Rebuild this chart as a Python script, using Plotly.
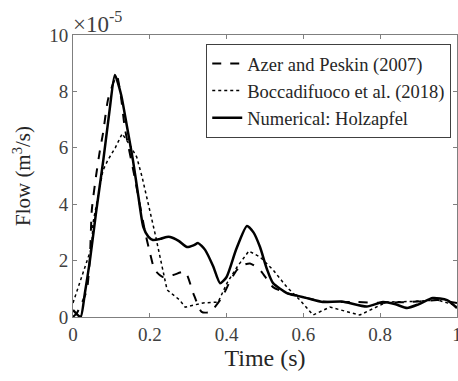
import plotly.graph_objects as go

# Numerical: Holzapfel (solid)
t_num = [0.0, 0.01, 0.02, 0.031, 0.044, 0.06, 0.079, 0.095, 0.109, 0.125, 0.14, 0.156, 0.17, 0.183, 0.196, 0.208,
         0.227, 0.244, 0.253, 0.275, 0.297, 0.315, 0.326, 0.344, 0.365, 0.383, 0.40, 0.425, 0.453, 0.47, 0.487,
         0.505, 0.521, 0.557, 0.585, 0.609, 0.651, 0.70, 0.765, 0.807, 0.84, 0.87, 0.90, 0.937, 0.974, 1.0]
q_num = [0.25, 0.1, 0.0, 0.85, 2.0, 3.7, 5.57, 7.3, 8.58, 7.9, 6.8, 5.57, 4.3, 3.2, 2.85, 2.73,
         2.77, 2.84, 2.84, 2.7, 2.48, 2.55, 2.62, 2.38, 1.8, 1.2, 1.42, 2.4, 3.23, 3.0, 2.48,
         1.7, 1.2, 0.85, 0.75, 0.67, 0.53, 0.55, 0.37, 0.53, 0.45, 0.32, 0.45, 0.67, 0.6, 0.32]

# Azer and Peskin (2007) (dashed)
t_azer = [0.0, 0.01, 0.02, 0.036, 0.044, 0.049, 0.06, 0.07, 0.078, 0.091, 0.105, 0.114, 0.125, 0.135, 0.16,
          0.188, 0.2, 0.213, 0.234, 0.261, 0.292, 0.313, 0.335, 0.357, 0.388, 0.41, 0.427, 0.445, 0.461,
          0.487, 0.521, 0.557, 0.60, 0.65, 0.74, 0.80, 0.90, 0.95, 1.0]
q_azer = [0.0, 0.14, 0.4, 0.95, 2.1, 3.8, 5.0, 5.9, 6.5, 7.7, 8.3, 8.58, 7.8, 6.7, 5.0,
          3.0, 2.3, 1.67, 1.42, 1.49, 1.6, 0.85, 0.18, 0.18, 0.7, 1.3, 1.67, 1.85, 1.9,
          1.67, 1.06, 0.85, 0.7, 0.55, 0.53, 0.5, 0.55, 0.6, 0.5]

# Boccadifuoco et al. (2018) (dotted)
t_bocc = [0.0, 0.026, 0.049, 0.052, 0.078, 0.091, 0.11, 0.128, 0.148, 0.166, 0.18, 0.213, 0.245, 0.278,
          0.292, 0.339, 0.378, 0.401, 0.427, 0.458, 0.487, 0.521, 0.557, 0.591, 0.625, 0.669, 0.747,
          0.817, 0.88, 0.95, 1.0]
q_bocc = [0.5, 1.56, 2.5, 3.33, 5.2, 5.57, 6.0, 6.5, 6.1, 5.67, 4.96, 3.0, 0.96, 0.6,
          0.35, 0.5, 0.53, 1.2, 1.77, 2.34, 2.13, 1.67, 1.06, 0.6, 0.07, 0.35, 0.07,
          0.53, 0.55, 0.6, 0.4]

x_ticks = [0, 0.2, 0.4, 0.6, 0.8, 1]
x_labels = ["0", "0.2", "0.4", "0.6", "0.8", "1"]
y_ticks = [0, 2, 4, 6, 8, 10]
y_labels = ["0", "2", "4", "6", "8", "10"]

FONT = "Liberation Serif"
AX = "#7f7f7f"
TXT = "#404040"

fig = go.Figure()
fig.add_trace(go.Scatter(x=t_azer, y=q_azer, mode="lines", name="Azer and Peskin (2007)",
                         line=dict(color="black", width=2, dash="dash", shape="spline", smoothing=0.6)))
fig.add_trace(go.Scatter(x=t_bocc, y=q_bocc, mode="lines", name="Boccadifuoco et al. (2018)",
                         line=dict(color="black", width=1.5, dash="dot")))
fig.add_trace(go.Scatter(x=t_num, y=q_num, mode="lines", name="Numerical: Holzapfel",
                         line=dict(color="black", width=2.5, shape="spline", smoothing=0.6)))

axis_common = dict(showline=True, linecolor=AX, linewidth=1, mirror="ticks", ticks="inside",
                   ticklen=4, tickcolor=AX, showgrid=False, zeroline=False, automargin=False,
                   ticklabeloverflow="allow",
                   tickfont=dict(family=FONT, size=19, color=TXT))

fig.update_xaxes(range=[0, 1], tickvals=x_ticks, ticktext=x_labels,
                 title=dict(text="Time (s)", font=dict(family=FONT, size=24, color="#262626"), standoff=2),
                 **axis_common)
fig.update_yaxes(range=[0, 10], tickvals=y_ticks, ticktext=y_labels,
                 title=dict(text="Flow (m<sup>3</sup>/s)", font=dict(family=FONT, size=21, color="#262626"), standoff=12),
                 **axis_common)

fig.add_annotation(text="×10<sup>-5</sup>", xref="paper", yref="paper", x=0.0, y=1.0,
                   xanchor="left", yanchor="bottom", showarrow=False, yshift=-4, xshift=-2,
                   font=dict(family=FONT, size=23, color=TXT))

fig.update_layout(
    width=458, height=381,
    margin=dict(l=73, r=1, t=35, b=64),
    plot_bgcolor="white", paper_bgcolor="white",
    showlegend=True,
    legend=dict(x=0.985, y=0.968, xanchor="right", yanchor="top",
                bgcolor="white", bordercolor="#404040", borderwidth=1,
                font=dict(family=FONT, size=18.5, color="#262626"),
                tracegroupgap=0, itemwidth=30),
)

fig.write_html("out.html", config={"displayModeBar": False},
               post_script="document.body.style.margin='0';document.body.style.overflow='hidden';")
